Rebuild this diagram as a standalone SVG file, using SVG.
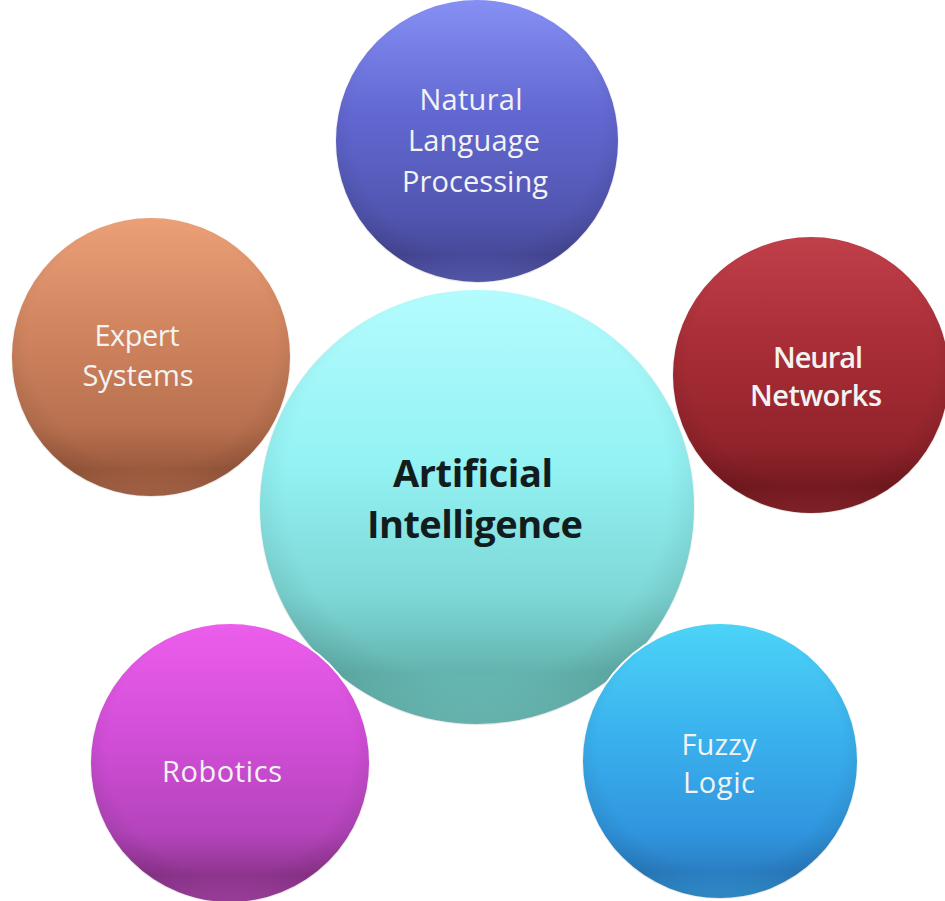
<svg xmlns="http://www.w3.org/2000/svg" width="945" height="901" viewBox="0 0 945 901">
  <defs>
    <style>
      .ball { stroke: #ffffff; stroke-width: 2; }
      .lbl { font-family: "Open Sans", "Noto Sans", "Liberation Sans", sans-serif; font-size: 29px; fill: #f3f3f3; text-anchor: middle; }
      .semi { font-weight: 600; }
      .core { font-family: "Open Sans", "Noto Sans", "Liberation Sans", sans-serif; font-size: 38px; font-weight: 700; fill: #131c1d; text-anchor: middle; }
    </style>
    <!-- vertical "polished sphere" fills: light top, darker lower band, soft reflection at the base -->
    <linearGradient id="gCore" x1="0" y1="0" x2="0" y2="1">
      <stop offset="0" stop-color="#b4fcfe"/>
      <stop offset="0.4" stop-color="#93f2f3"/>
      <stop offset="0.7" stop-color="#7ed8d6"/>
      <stop offset="0.88" stop-color="#63b4af"/>
      <stop offset="1" stop-color="#70c4bf"/>
    </linearGradient>
    <linearGradient id="gNlp" x1="0" y1="0" x2="0" y2="1">
      <stop offset="0" stop-color="#8690f4"/>
      <stop offset="0.4" stop-color="#6268d2"/>
      <stop offset="0.75" stop-color="#5256b1"/>
      <stop offset="0.9" stop-color="#48499a"/>
      <stop offset="1" stop-color="#5a5fb8"/>
    </linearGradient>
    <linearGradient id="gExpert" x1="0" y1="0" x2="0" y2="1">
      <stop offset="0" stop-color="#eca078"/>
      <stop offset="0.4" stop-color="#d1855f"/>
      <stop offset="0.75" stop-color="#b8704f"/>
      <stop offset="0.9" stop-color="#9c5a3d"/>
      <stop offset="1" stop-color="#b06a4c"/>
    </linearGradient>
    <linearGradient id="gNeural" x1="0" y1="0" x2="0" y2="1">
      <stop offset="0" stop-color="#c03f4a"/>
      <stop offset="0.4" stop-color="#a82d36"/>
      <stop offset="0.75" stop-color="#92232b"/>
      <stop offset="0.9" stop-color="#761a20"/>
      <stop offset="1" stop-color="#8c252c"/>
    </linearGradient>
    <linearGradient id="gRobot" x1="0" y1="0" x2="0" y2="1">
      <stop offset="0" stop-color="#ec5eec"/>
      <stop offset="0.4" stop-color="#d24ed8"/>
      <stop offset="0.75" stop-color="#b444bb"/>
      <stop offset="0.9" stop-color="#8f358f"/>
      <stop offset="1" stop-color="#a843a8"/>
    </linearGradient>
    <linearGradient id="gFuzzy" x1="0" y1="0" x2="0" y2="1">
      <stop offset="0" stop-color="#4cd4f7"/>
      <stop offset="0.4" stop-color="#3ab2ee"/>
      <stop offset="0.75" stop-color="#3096df"/>
      <stop offset="0.9" stop-color="#2a7fc4"/>
      <stop offset="1" stop-color="#3396d6"/>
    </linearGradient>
    <!-- rim shading laid over every sphere -->
    <radialGradient id="rim" cx="0.5" cy="0.45" r="0.55">
      <stop offset="0" stop-color="#000000" stop-opacity="0"/>
      <stop offset="0.8" stop-color="#000000" stop-opacity="0"/>
      <stop offset="1" stop-color="#000000" stop-opacity="0.1"/>
    </radialGradient>
  </defs>

  <rect width="945" height="901" fill="#ffffff"/>

  <g id="connectors"/>

  <g id="node-ai">
    <circle class="ball" cx="477" cy="507" r="218" fill="url(#gCore)"/>
    <circle cx="477" cy="507" r="218" fill="url(#rim)"/>
    <text class="core" x="473" y="487" textLength="160">Artificial</text>
    <text class="core" x="475" y="538" textLength="216">Intelligence</text>
  </g>

  <g id="node-nlp">
    <circle class="ball" cx="477" cy="141" r="142" fill="url(#gNlp)"/>
    <circle cx="477" cy="141" r="142" fill="url(#rim)"/>
    <text class="lbl" x="471" y="110" textLength="103">Natural</text>
    <text class="lbl" x="474" y="151" textLength="132">Language</text>
    <text class="lbl" x="475" y="192" textLength="146">Processing</text>
  </g>

  <g id="node-expert">
    <circle class="ball" cx="151" cy="357" r="140" fill="url(#gExpert)"/>
    <circle cx="151" cy="357" r="140" fill="url(#rim)"/>
    <text class="lbl" x="137" y="346" textLength="85">Expert</text>
    <text class="lbl" x="138" y="386" textLength="111">Systems</text>
  </g>

  <g id="node-neural">
    <circle class="ball" cx="811" cy="375" r="139" fill="url(#gNeural)"/>
    <circle cx="811" cy="375" r="139" fill="url(#rim)"/>
    <text class="lbl semi" x="818" y="368" textLength="90">Neural</text>
    <text class="lbl semi" x="816" y="406" textLength="132">Networks</text>
  </g>

  <g id="node-robotics">
    <circle class="ball" cx="230" cy="763" r="140" fill="url(#gRobot)"/>
    <circle cx="230" cy="763" r="140" fill="url(#rim)"/>
    <text class="lbl" x="222" y="782" textLength="120">Robotics</text>
  </g>

  <g id="node-fuzzy">
    <circle class="ball" cx="720" cy="761" r="138" fill="url(#gFuzzy)"/>
    <circle cx="720" cy="761" r="138" fill="url(#rim)"/>
    <text class="lbl" x="719" y="755" textLength="75">Fuzzy</text>
    <text class="lbl" x="719" y="793" textLength="72">Logic</text>
  </g>
</svg>
